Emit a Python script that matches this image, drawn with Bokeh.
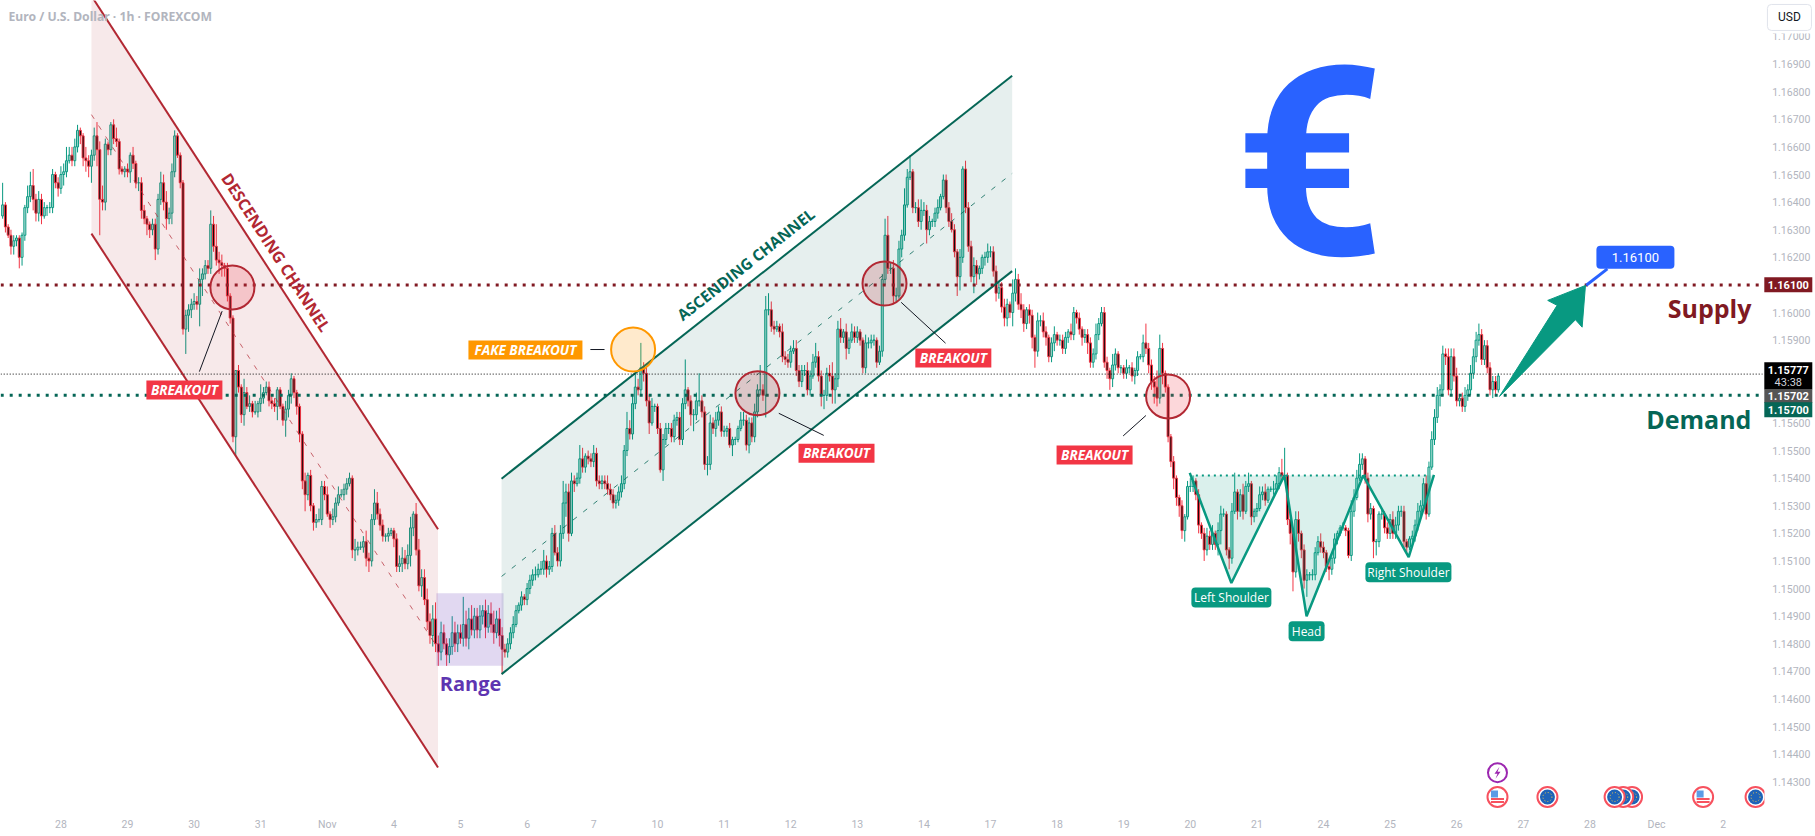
from bokeh.plotting import figure
from bokeh.models import ColumnDataSource, FixedTicker, NumeralTickFormatter, Range1d
from bokeh.core.properties import value
from bokeh.embed import file_html
from bokeh.resources import INLINE

# ---------- data: hourly candles, prices as pips (price = 1 + v / 10000), first bar index ----------
first_bar = -21
first_open = 1635
closes = [
1639,1631,1628,1624,1626,1627,1620,1628,1638,1642,
1646,1641,1636,1641,1635,1638,1638,1638,1650,1647,
1645,1650,1651,1655,1657,1655,1660,1666,1664,1656,
1655,1653,1657,1664,1659,1641,1640,1661,1659,1668,
1663,1662,1652,1651,1652,1651,1657,1654,1647,1647,
1637,1634,1632,1630,1632,1623,1641,1647,1640,1634,
1636,1651,1664,1657,1647,1594,1599,1601,1603,1604,
1603,1612,1614,1617,1616,1632,1624,1619,1618,1617,
1616,1606,1598,1555,1579,1573,1563,1571,1566,1567,
1564,1564,1567,1569,1571,1573,1568,1567,1566,1572,
1566,1561,1565,1570,1576,1571,1566,1556,1539,1534,
1541,1530,1524,1525,1525,1537,1534,1527,1525,1526,
1531,1534,1534,1536,1538,1540,1514,1514,1515,1515,
1517,1511,1510,1525,1531,1527,1523,1519,1519,1520,
1521,1518,1508,1509,1511,1509,1512,1522,1527,1514,
1501,1504,1496,
1488,1483,1489,1480,1477,1484,1480,1476,1479,1484,
1480,1484,1482,1487,1482,1489,1485,1490,1485,1490,
1492,1486,1491,1487,1484,1489,1483,1478,1477,1480,
1484,1487,1492,1494,1497,1496,1500,1503,
1505,1505,1507,1507,1510,1507,1508,1520,1513,1510,
1520,1531,1535,1520,1539,1538,1540,1547,1544,1548,
1547,1546,1549,1539,1538,1539,1538,1536,1534,1531,
1532,1535,1538,1550,1558,1556,1567,1573,1572,1580,
1578,1568,1560,1566,1566,1558,1543,1554,1558,1558,
1555,1561,1562,1554,1567,1572,1568,1563,1563,1568,
1568,1564,1545,1545,1560,1558,1561,1564,1557,1557,
1558,1552,1554,1554,1558,1561,1561,1552,1560,1555,
1564,1572,1572,1570,1601,1601,1595,1594,1595,1593,
1584,1583,1582,1586,1587,1579,1575,1579,1579,1572,
1577,1582,1584,1577,1570,1570,1578,1577,1572,1576,
1594,1591,1593,1587,1590,1593,1591,1593,1590,1580,
1589,1589,1590,1590,1582,1586,1612,1628,1616,1616,
1606,1606,1623,1628,1639,1649,1651,1638,1638,1633,
1637,1637,1630,1633,1633,1636,1638,1642,1648,1638,
1633,1630,1622,1613,1620,1652,1638,1624,1613,1617,
1614,1616,1620,1620,1622,1622,1615,1607,1609,1602,
1598,1603,1600,1607,1612,1603,1601,1596,1601,1599,
1591,1586,1597,1597,1593,1591,1584,1589,1592,1590,
1590,1587,1591,1593,1592,1600,1598,1594,1591,1592,
1589,1582,1585,1592,1596,1600,1582,1579,1576,1581,
1585,1580,1580,1578,1580,1580,1577,1579,1584,1584,
1589,1587,1581,1575,1573,1569,1587,1578,1573,1555,
1546,1540,1533,1530,1521,1526,1537,1537,1539,1534,
1523,1520,1514,1519,1516,1520,1516,1521,1527,1527,
1514,1511,1528,1535,1528,1534,1528,1537,1538,1526,
1528,1529,1534,1535,1532,1536,1536,1536,1538,1542,
1541,1541,1525,1520,1506,1525,1520,1514,1503,1505,
1505,1505,1513,1517,1515,1513,1508,1507,1511,1518,
1520,1522,1522,1521,1512,1528,1533,1540,1545,1547,
1540,1527,1529,1517,1517,1527,1527,1522,1520,1525,
1520,1523,1528,1528,1517,1515,1518,1519,1523,1528,
1530,1538,1527,1544,1554,1562,1570,1572,1585,1584,
1572,1584,1577,1568,1569,1566,1570,1572,1578,1584,
1590,1592,1583,1588,1580,1572,1575,1572,1577,
]
wick_up = [
8,1,1,2,2,1,1,1,1,4, 5,6,2,3,2,2,1,2,2,1, 2,3,3,5,3,3,3,2,1,1, 4,2,2,3,5,3,5,2,1,1,
2,4,1,1,1,2,1,3,1,2, 2,2,1,1,2,2,2,4,3,4, 2,3,2,1,1,1,2,2,2,3, 2,4,2,2,2,5,3,8,3,3,
1,2,1,1,0,2,1,5,2,3, 1,4,1,5,2,2,2,2,2,1, 1,1,3,2,2,1,1,1,1,3, 1,2,1,2,4,2,2,3,1,3,
2,3,2,2,2,2,1,4,2,2, 2,4,2,2,5,4,2,2,1,2, 1,1,2,3,4,3,4,4,1,4, 4,3,3,
4,3,5,6,3,4,3,2,3,6, 4,3,3,10,5,4,5,3,3,4, 2,4,3,4,5,3,4,3,2,2, 2,3,2,1,2,1,2,2,
2,3,2,3,4,2,2,2,3,2, 3,8,3,3,3,2,2,5,4,1, 2,2,3,2,2,2,2,3,2,2, 2,2,3,2,6,3,3,5,3,9,
2,2,2,3,1,1,2,2,2,2, 2,2,2,2,2,11,1,2,2,3, 10,2,2,3,3,2,3,2,2,2, 1,2,1,1,1,3,3,2,2,2,
3,2,9,2,5,6,3,2,2,1, 3,2,2,2,3,3,2,2,2,3, 2,3,5,2,2,2,2,3,5,2, 3,4,1,3,1,3,2,2,1,1,
3,2,2,2,1,2,2,6,7,2, 3,3,3,2,6,3,6,1,2,3, 4,3,2,2,1,2,3,1,2,2, 2,3,2,1,3,1,3,2,2,3,
2,1,1,2,3,2,2,2,2,2, 3,2,1,5,4,2,4,2,1,2, 2,1,3,2,3,2,1,2,3,1, 2,2,2,1,3,2,1,2,1,2,
2,2,2,4,2,2,2,2,1,4, 2,1,1,1,3,1,2,1,2,1, 3,7,2,2,2,6,5,2,1,1, 1,2,1,1,2,1,2,3,2,1,
2,1,2,3,2,3,1,3,3,2, 1,1,3,7,1,2,4,2,4,1, 1,2,3,2,3,1,1,3,3,2, 5,10,1,2,2,3,3,1,2,2,
1,2,2,2,3,2,1,2,2,2, 1,1,2,1,1,4,3,3,4,2, 1,2,2,1,1,1,2,1,2,2, 3,3,2,2,2,1,1,2,2,3,
2,2,3,2,3,3,3,2,3,2, 3,3,3,3,1,2,3,2,3,3, 3,4,2,2,2,2,2,2,1,
]
wick_dn = [
1,2,1,3,3,2,4,3,2,2, 2,4,3,3,3,1,3,2,2,2, 3,2,4,2,1,2,2,2,3,3, 4,4,6,2,6,13,3,3,2,2,
2,2,2,1,2,2,4,2,2,3, 3,2,4,3,2,4,2,2,3,4, 2,4,2,1,2,2,9,6,3,2, 2,8,6,2,2,2,2,2,4,4,
3,2,2,2,7,2,3,4,1,2, 2,1,2,3,2,1,2,2,2,5, 1,2,6,3,3,2,3,3,3,6, 2,2,3,2,1,2,2,1,3,2,
2,1,1,2,2,1,3,4,2,1, 2,3,4,2,2,2,2,2,2,2, 1,3,2,2,3,2,2,4,3,2, 2,4,2,
3,3,4,3,5,3,2,4,3,3, 3,3,2,3,3,4,2,3,3,3, 3,4,2,3,4,2,4,9,2,2, 2,2,1,1,2,2,2,2,
2,2,1,2,2,3,2,2,1,2, 2,2,5,3,1,3,1,2,2,2, 2,2,2,2,2,2,2,2,2,2, 2,2,2,2,2,2,2,2,2,2,
3,2,4,1,2,2,1,4,2,2, 2,2,2,2,2,2,2,4,6,2, 2,2,2,4,2,2,3,2,2,2, 2,1,4,2,1,1,2,2,3,2,
2,2,2,2,8,2,2,2,1,2, 2,2,2,2,1,2,2,2,2,2, 2,1,2,2,4,5,2,2,5,5, 3,2,2,4,2,1,2,2,2,2,
2,2,2,2,2,1,2,2,2,2, 3,2,1,3,2,1,1,2,2,2, 3,2,5,2,2,2,2,1,1,2, 2,1,2,7,5,2,2,2,2,6,
4,2,2,3,2,2,2,3,2,2, 3,3,2,5,3,2,3,3,2,3, 4,6,2,2,2,3,2,2,3,2, 2,2,2,2,2,2,2,2,3,2,
4,2,2,2,2,1,2,3,4,3, 2,2,2,2,2,2,2,3,2,1, 2,2,3,3,6,3,2,4,2,2, 2,4,3,4,3,4,1,2,2,2,
3,2,4,2,2,2,2,4,5,1, 2,4,2,1,3,2,3,1,2,3, 2,2,1,2,2,1,1,2,1,2, 2,1,2,4,7,2,3,3,3,6,
2,2,2,1,2,2,2,4,2,2, 2,1,1,2,1,2,2,1,1,2, 2,3,2,6,5,2,2,2,2,2, 2,2,2,2,2,2,1,2,2,2,
2,2,2,1,1,2,2,4,2,3, 2,2,2,2,2,2,2,2,2,2, 2,2,2,2,2,2,3,2,1,
]
date_labels = ["28","29","30","31","Nov","4","5","6","7","10","11","12","13","14",
               "17","18","19","20","21","24","25","26","27","28","Dec","2"]
date_bars = [0,24,48,72,96,120,144,168,192,215,239,263,287,311,335,359,383,407,431,455,479,503,527,551,575,599]
price_ticks = [1.170,1.169,1.168,1.167,1.166,1.165,1.164,1.163,1.162,1.160,1.159,
               1.156,1.155,1.154,1.153,1.152,1.151,1.150,1.149,1.148,1.147,1.146,1.145,1.144,1.143]

# ---------- drawings, in bar index and price ----------
supply_level = 1.161
demand_level = 1.157
last_price = 1.15777
desc_x = [11.0, 135.9]
desc_top = [1.17147, 1.15215]
desc_mid = [1.16717, 1.14783]
desc_bot = [1.16286, 1.14352]
asc_x = [158.8, 342.8]
asc_top = [1.15398, 1.16858]
asc_mid = [1.15044, 1.16504]
asc_bot = [1.14690, 1.16150]
range_box = (135.3, 159.5, 1.14720, 1.14983)
circle_x = [61.8, 206.2, 251.0, 296.8, 399.0]
circle_y = [1.16091, 1.15866, 1.15708, 1.16105, 1.15696]
circle_fill = ["#F23645", "#FF9800", "#B22833", "#B22833", "#F23645"]
circle_line = ["#B22833", "#FF9800", "#B22833", "#B22833", "#B22833"]
link_x0 = [58.1, 190.8, 258.7, 302.8, 391.0]
link_y0 = [1.16005, 1.15866, 1.15635, 1.16037, 1.15627]
link_x1 = [49.9, 195.9, 274.9, 318.8, 382.8]
link_y1 = [1.15786, 1.15866, 1.15555, 1.15889, 1.15553]
tag_x = [44.5, 167.4, 279.5, 321.6, 372.5]
tag_y = [1.15719, 1.15864, 1.15490, 1.15835, 1.15484]
tag_text = ["BREAKOUT", "FAKE BREAKOUT", "BREAKOUT", "BREAKOUT", "BREAKOUT"]
tag_color = ["#F23645", "#FF9800", "#F23645", "#F23645", "#F23645"]
tag_width = [76, 114, 76, 76, 76]
hs_x = [406.8, 421.8, 440.9, 448.9, 469.3, 485.7, 494.8]
hs_y = [1.15419, 1.1502, 1.1541, 1.1490, 1.1541, 1.15114, 1.15412]
hs_text = ["Left Shoulder", "Head", "Right Shoulder"]
hs_text_x = [421.8, 448.9, 485.6]
hs_text_y = [1.14968, 1.14845, 1.15059]
hs_text_w = [80, 36, 86]
arrow_x = [518.4, 539.2, 535.8, 549.4, 548.2, 545.8]
arrow_y = [1.15696, 1.16026, 1.16044, 1.16098, 1.15947, 1.15974]
event_us = [591.8, 517.7]
event_eu = [610.7, 566.2, 563.0, 559.9, 535.7]
event_row = 1.14245
event_flash = (517.7, 1.14333)

PX_X = 1 / 2.775      # one screen pixel in bar units
PX_Y = 1 / 27604      # one screen pixel in price units
FONT = value("Open Sans")
UP, DOWN = "#089981", "#F23645"
RED, GREEN = "#B22833", "#056656"
MAROON = "#801922"
BLUE = "#2962FF"

# ---------- figure ----------
p = figure(frame_width=1815, frame_height=808, output_backend="svg", toolbar_location=None,
           x_range=Range1d(-21.77, 632.3), y_range=Range1d(1.142033, 1.171304),
           y_axis_location="right", background_fill_color="#FFFFFF", border_fill_color="#FFFFFF",
           min_border_left=0, min_border_top=0, min_border_right=0, min_border_bottom=28)
p.grid.visible = False
p.outline_line_color = None

p.yaxis.ticker = FixedTicker(ticks=price_ticks)
p.yaxis.formatter = NumeralTickFormatter(format="0.00000")
p.yaxis.fixed_location = 613.8
p.xaxis.ticker = FixedTicker(ticks=date_bars)
p.xaxis.major_label_overrides = dict(zip(date_bars, date_labels))
for ax, standoff in ((p.yaxis, 8), (p.xaxis, 9)):
    ax.axis_line_color = None
    ax.major_tick_line_color = None
    ax.minor_tick_line_color = None
    ax.major_tick_out = 0
    ax.major_tick_in = 0
    ax.major_label_text_color = "#B2B5BE"
    ax.major_label_text_font = "Roboto"
    ax.major_label_text_font_size = "10.5px"
    ax.major_label_standoff = standoff

# ---------- candles ----------
bars = list(range(first_bar, first_bar + len(closes)))
opens = [first_open] + closes[:-1]
data = {"up": {"x": [], "o": [], "c": [], "h": [], "l": []},
        "dn": {"x": [], "o": [], "c": [], "h": [], "l": []}}
for x, o, c, wu, wd in zip(bars, opens, closes, wick_up, wick_dn):
    d = data["up" if c >= o else "dn"]
    d["x"].append(x)
    d["o"].append(1 + o / 10000)
    d["c"].append(1 + c / 10000)
    d["h"].append(1 + (max(o, c) + wu) / 10000)
    d["l"].append(1 + (min(o, c) - wd) / 10000)

up = ColumnDataSource(data["up"])
dn = ColumnDataSource(data["dn"])
p.segment("x", "h", "x", "l", source=up, line_color=UP, line_width=1)
p.segment("x", "h", "x", "l", source=dn, line_color=DOWN, line_width=1)
p.vbar("x", 0.72, "o", "c", source=up, fill_color="#FFFFFF", fill_alpha=0.55, line_color=UP, line_width=1)
p.vbar("x", 0.72, "o", "c", source=dn, fill_color="#000000", line_color=DOWN, line_width=1)

# ---------- channels ----------
p.patch(desc_x + desc_x[::-1], desc_top + desc_bot[::-1], fill_color=RED, fill_alpha=0.1, line_color=None)
p.line(desc_x, desc_top, line_color=RED, line_width=2)
p.line(desc_x, desc_bot, line_color=RED, line_width=2)
p.line(desc_x, desc_mid, line_color=RED, line_width=1, line_dash="5 8", line_alpha=0.7)
p.patch(asc_x + asc_x[::-1], asc_top + asc_bot[::-1], fill_color=GREEN, fill_alpha=0.1, line_color=None)
p.line(asc_x, asc_top, line_color=GREEN, line_width=2)
p.line(asc_x, asc_bot, line_color=GREEN, line_width=2)
p.line(asc_x, asc_mid, line_color=GREEN, line_width=1, line_dash="5 8", line_alpha=0.8)
p.quad(left=[range_box[0]], right=[range_box[1]], bottom=[range_box[2]], top=[range_box[3]],
       fill_color="#673AB7", fill_alpha=0.2, line_color=None)

# ---------- levels ----------
x_span = [-21.7, 612]
p.line(x_span, [supply_level] * 2, line_color=MAROON, line_width=3, line_dash="3 6")
p.line(x_span, [demand_level] * 2, line_color=GREEN, line_width=3, line_dash="3 6")
p.line([-21.7, 613.2], [last_price] * 2, line_color="#000000", line_width=1, line_dash="1 2")

# ---------- breakout marks ----------
p.segment(link_x0, link_y0, link_x1, link_y1, line_color="#131722", line_width=1)
p.scatter(circle_x, circle_y, size=44, marker="circle", fill_color=circle_fill, fill_alpha=0.2,
          line_color=circle_line, line_width=2)
p.rect(tag_x, tag_y, width=tag_width, height=[19] * 5, width_units="screen", height_units="screen",
       fill_color=tag_color, line_color=None)
p.text(tag_x, tag_y, text=tag_text, text_color="#FFFFFF", text_font=FONT, text_font_size="13.5px",
       text_font_style="bold italic", text_align="center", text_baseline="middle")

# ---------- head and shoulders ----------
for a, b, c in ((0, 1, 2), (2, 3, 4), (4, 5, 6)):
    p.patch([hs_x[a], hs_x[b], hs_x[c]], [1.1541, hs_y[b], 1.1541], fill_color=UP, fill_alpha=0.15, line_color=None)
p.line([409, 492], [1.1541, 1.1541], line_color=UP, line_width=2, line_dash="2 4")
p.line(hs_x, hs_y, line_color=UP, line_width=2.5)
p.rect(hs_text_x, hs_text_y, width=hs_text_w, height=[20] * 3, width_units="screen", height_units="screen",
       fill_color=UP, line_color=None, border_radius=4)
p.text(hs_text_x, hs_text_y, text=hs_text, text_color="#FFFFFF", text_font=FONT, text_font_size="12px",
       text_align="center", text_baseline="middle")

# ---------- target arrow ----------
p.patch(arrow_x, arrow_y, fill_color=UP, line_color=UP, line_width=1)
p.line([557.3, 549.7], [1.16158, 1.16099], line_color=BLUE, line_width=3)
p.rect([567.4], [1.162], width=78, height=23, width_units="screen", height_units="screen",
       fill_color=BLUE, line_color=None, border_radius=4)
p.text([567.4], [1.162], text=["1.16100"], text_color="#FFFFFF", text_font=value("Roboto"),
       text_font_size="13px", text_align="center", text_baseline="middle")

# ---------- words ----------
def word(x, y, s, color, size, angle=0.0, align="center", style="normal", font=FONT):
    p.text([x], [y], text=[s], text_color=color, text_font=font, text_font_size=size, angle=angle,
           text_font_style=style, text_align=align, text_baseline="middle")

word(-18.9, 1.17071, "Euro / U.S. Dollar · 1h · FOREXCOM", "#B2B5BE", "12.2px", align="left", style="bold", font=value("Noto Sans"))
word(77.5, 1.16218, "DESCENDING CHANNEL", RED, "16px", angle=-0.994, style="bold")
word(246.8, 1.16175, "ASCENDING CHANNEL", GREEN, "15.5px", angle=0.668, style="bold")
word(147.6, 1.14656, "Range", "#5E35B1", "20px", style="bold")
word(609.2, 1.16015, "Supply", MAROON, "25px", align="right", style="bold")
word(609.2, 1.15613, "Demand", GREEN, "25px", align="right", style="bold")
word(450, 1.16537, "€", BLUE, "264px", style="bold", font=value("Roboto"))

# ---------- calendar events ----------
for x in event_eu:
    p.scatter([x], [event_row], size=20, marker="circle", fill_color="#FFFFFF", line_color="#F7525F", line_width=2)
    p.scatter([x], [event_row], size=15, marker="circle", fill_color="#1E63B8", line_color=None)
    p.scatter([x], [event_row], size=9, marker="circle", fill_color=None, line_color="#F2C94C", line_width=1, line_dash="1 2")
for x in event_us:
    p.scatter([x], [event_row], size=20, marker="circle", fill_color="#FFFFFF", line_color="#F7525F", line_width=2)
    p.rect([x - 3 * PX_X], [event_row + 3 * PX_Y], width=7, height=7, width_units="screen", height_units="screen",
           fill_color="#5B9BE6", line_color=None)
    p.rect([x, x], [event_row - 2 * PX_Y, event_row - 5 * PX_Y], width=13, height=2, width_units="screen",
           height_units="screen", fill_color="#F7525F", line_color=None)
fx, fy = event_flash
p.scatter([fx], [fy], size=19, marker="circle", fill_color="#FFFFFF", line_color="#9C27B0", line_width=2)
p.patch([fx + dx * PX_X for dx in (2, -3, 0, -2, 3, 0)], [fy + dy * PX_Y for dy in (6, -1, -1, -6, 1, 1)],
        fill_color="#9C27B0", line_color=None)

# ---------- price scale boxes ----------
p.quad(left=[613.9], right=[632.3], bottom=[1.142033], top=[1.171304], fill_color="#FFFFFF", line_color=None)

scale_x = 622.5
def box(y, h, bg):
    p.rect([scale_x], [y], width=48, height=h, width_units="screen", height_units="screen",
           fill_color=bg, line_color=None, level="overlay")
def box_text(y, s, color="#FFFFFF", style="bold"):
    p.text([scale_x], [y], text=[s], text_color=color, text_font=value("Roboto"), text_font_size="11px",
           text_font_style=style, text_align="center", text_baseline="middle", level="overlay")

box(1.16101, 15, MAROON)
box(1.15771, 27, "#000000")
box(1.15698, 14, "#555555")
box(1.15648, 15, GREEN)
box_text(1.16101, "1.16100")
box_text(1.15791, "1.15777")
box_text(1.15748, "43:38", color="#D1D4DC", style="normal")
box_text(1.15698, "1.15702")
box_text(1.15648, "1.15700")
p.rect([622.9], [1.17069], width=44, height=32, width_units="screen", height_units="screen",
       fill_color="#FFFFFF", line_color=None, level="overlay")
p.rect([622.9], [1.17069], width=44, height=26, width_units="screen", height_units="screen",
       fill_color="#FFFFFF", line_color="#E0E3EB", border_radius=4, level="overlay")
p.text([622.9], [1.17069], text=["USD"], text_color="#131722", text_font=value("Roboto"), text_font_size="12px",
       text_align="center", text_baseline="middle", level="overlay")

open("out.html", "w").write(file_html(p, INLINE))
